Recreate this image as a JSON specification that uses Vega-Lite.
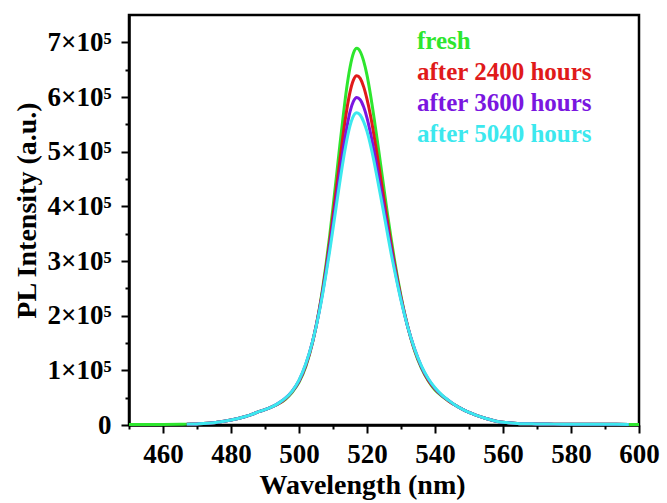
{
  "$schema": "https://vega.github.io/schema/vega-lite/v6.json",
  "width": 510,
  "height": 410,
  "autosize": {"type": "none"},
  "padding": {"left": 129, "top": 15, "right": 28, "bottom": 78},
  "background": "white",
  "view": {"stroke": "black", "strokeWidth": 2.5},
  "config": {
    "axis": {
      "labelFont": "Liberation Serif", "labelFontWeight": "bold", "labelFontSize": 27, "labelColor": "black",
      "titleFont": "Liberation Serif", "titleFontWeight": "bold", "titleFontSize": 28, "titleColor": "black",
      "domainColor": "black", "tickColor": "black", "domainWidth": 2.5, "tickWidth": 2, "grid": false
    }
  },
  "data": {"values": [
    {"wl": 450, "fresh": 1000},
    {"wl": 455, "fresh": 1000},
    {"wl": 460, "fresh": 1000},
    {"wl": 465, "fresh": 1300},
    {"wl": 467, "fresh": 1600, "after 2400 hours": 1600, "after 3600 hours": 1600, "after 5040 hours": 1600},
    {"wl": 470, "fresh": 2000, "after 2400 hours": 2000, "after 3600 hours": 2000, "after 5040 hours": 2000},
    {"wl": 475, "fresh": 4000, "after 2400 hours": 4000, "after 3600 hours": 4000, "after 5040 hours": 4000},
    {"wl": 477, "fresh": 6000, "after 2400 hours": 6000, "after 3600 hours": 6000, "after 5040 hours": 6000},
    {"wl": 480, "fresh": 9000, "after 2400 hours": 9000, "after 3600 hours": 9000, "after 5040 hours": 9000},
    {"wl": 484, "fresh": 15000, "after 2400 hours": 15000, "after 3600 hours": 15000, "after 5040 hours": 15000},
    {"wl": 486, "fresh": 19000, "after 2400 hours": 19000, "after 3600 hours": 19000, "after 5040 hours": 19000},
    {"wl": 488, "fresh": 24000, "after 2400 hours": 24000, "after 3600 hours": 24000, "after 5040 hours": 24000},
    {"wl": 490, "fresh": 28000, "after 2400 hours": 28000, "after 3600 hours": 28000, "after 5040 hours": 28000},
    {"wl": 492, "fresh": 33000, "after 2400 hours": 33000, "after 3600 hours": 33000, "after 5040 hours": 33000},
    {"wl": 494, "fresh": 39000, "after 2400 hours": 39000, "after 3600 hours": 40000, "after 5040 hours": 40000},
    {"wl": 496, "fresh": 47000, "after 2400 hours": 48000, "after 3600 hours": 49000, "after 5040 hours": 49000},
    {"wl": 498, "fresh": 60000, "after 2400 hours": 61000, "after 3600 hours": 62000, "after 5040 hours": 62000},
    {"wl": 500, "fresh": 78000, "after 2400 hours": 80000, "after 3600 hours": 81000, "after 5040 hours": 82000},
    {"wl": 502, "fresh": 107000, "after 2400 hours": 109000, "after 3600 hours": 111000, "after 5040 hours": 112000},
    {"wl": 504, "fresh": 151000, "after 2400 hours": 152000, "after 3600 hours": 153000, "after 5040 hours": 153000},
    {"wl": 506, "fresh": 213000, "after 2400 hours": 212000, "after 3600 hours": 210000, "after 5040 hours": 208000},
    {"wl": 507, "fresh": 252000, "after 2400 hours": 248000, "after 3600 hours": 244000, "after 5040 hours": 241000},
    {"wl": 508, "fresh": 296000, "after 2400 hours": 289000, "after 3600 hours": 283000, "after 5040 hours": 278000},
    {"wl": 509, "fresh": 345000, "after 2400 hours": 334000, "after 3600 hours": 325000, "after 5040 hours": 317000},
    {"wl": 510, "fresh": 398000, "after 2400 hours": 383000, "after 3600 hours": 369000, "after 5040 hours": 359000},
    {"wl": 511, "fresh": 454000, "after 2400 hours": 433000, "after 3600 hours": 415000, "after 5040 hours": 402000},
    {"wl": 512, "fresh": 511000, "after 2400 hours": 483000, "after 3600 hours": 461000, "after 5040 hours": 444000},
    {"wl": 513, "fresh": 565000, "after 2400 hours": 532000, "after 3600 hours": 504000, "after 5040 hours": 484000},
    {"wl": 514, "fresh": 615000, "after 2400 hours": 575000, "after 3600 hours": 542000, "after 5040 hours": 519000},
    {"wl": 515, "fresh": 654000, "after 2400 hours": 609000, "after 3600 hours": 573000, "after 5040 hours": 547000},
    {"wl": 516, "fresh": 680000, "after 2400 hours": 631000, "after 3600 hours": 592000, "after 5040 hours": 565000},
    {"wl": 517, "fresh": 689000, "after 2400 hours": 639000, "after 3600 hours": 599000, "after 5040 hours": 571000},
    {"wl": 518, "fresh": 683000, "after 2400 hours": 634000, "after 3600 hours": 595000, "after 5040 hours": 567000},
    {"wl": 519, "fresh": 666000, "after 2400 hours": 619000, "after 3600 hours": 582000, "after 5040 hours": 555000},
    {"wl": 520, "fresh": 640000, "after 2400 hours": 596000, "after 3600 hours": 562000, "after 5040 hours": 537000},
    {"wl": 521, "fresh": 605000, "after 2400 hours": 567000, "after 3600 hours": 535000, "after 5040 hours": 513000},
    {"wl": 522, "fresh": 565000, "after 2400 hours": 532000, "after 3600 hours": 504000, "after 5040 hours": 484000},
    {"wl": 523, "fresh": 522000, "after 2400 hours": 493000, "after 3600 hours": 469000, "after 5040 hours": 452000},
    {"wl": 524, "fresh": 477000, "after 2400 hours": 453000, "after 3600 hours": 433000, "after 5040 hours": 419000},
    {"wl": 525, "fresh": 432000, "after 2400 hours": 413000, "after 3600 hours": 397000, "after 5040 hours": 385000},
    {"wl": 526, "fresh": 387000, "after 2400 hours": 373000, "after 3600 hours": 360000, "after 5040 hours": 351000},
    {"wl": 527, "fresh": 345000, "after 2400 hours": 334000, "after 3600 hours": 325000, "after 5040 hours": 317000},
    {"wl": 528, "fresh": 305000, "after 2400 hours": 298000, "after 3600 hours": 291000, "after 5040 hours": 286000},
    {"wl": 530, "fresh": 236000, "after 2400 hours": 233000, "after 3600 hours": 230000, "after 5040 hours": 228000},
    {"wl": 532, "fresh": 179000, "after 2400 hours": 180000, "after 3600 hours": 179000, "after 5040 hours": 179000},
    {"wl": 534, "fresh": 136000, "after 2400 hours": 137000, "after 3600 hours": 139000, "after 5040 hours": 139000},
    {"wl": 536, "fresh": 104000, "after 2400 hours": 106000, "after 3600 hours": 107000, "after 5040 hours": 108000},
    {"wl": 538, "fresh": 81000, "after 2400 hours": 82000, "after 3600 hours": 84000, "after 5040 hours": 85000},
    {"wl": 540, "fresh": 64000, "after 2400 hours": 66000, "after 3600 hours": 67000, "after 5040 hours": 68000},
    {"wl": 542, "fresh": 53000, "after 2400 hours": 54000, "after 3600 hours": 54000, "after 5040 hours": 55000},
    {"wl": 544, "fresh": 44000, "after 2400 hours": 44000, "after 3600 hours": 45000, "after 5040 hours": 45000},
    {"wl": 546, "fresh": 36000, "after 2400 hours": 36000, "after 3600 hours": 36000, "after 5040 hours": 36000},
    {"wl": 548, "fresh": 29000, "after 2400 hours": 29000, "after 3600 hours": 29000, "after 5040 hours": 29000},
    {"wl": 550, "fresh": 23000, "after 2400 hours": 23000, "after 3600 hours": 23000, "after 5040 hours": 23000},
    {"wl": 552, "fresh": 18000, "after 2400 hours": 18000, "after 3600 hours": 18000, "after 5040 hours": 18000},
    {"wl": 555, "fresh": 12000, "after 2400 hours": 12000, "after 3600 hours": 12000, "after 5040 hours": 12000},
    {"wl": 558, "fresh": 7000, "after 2400 hours": 7000, "after 3600 hours": 7000, "after 5040 hours": 7000},
    {"wl": 561, "fresh": 4400, "after 2400 hours": 4400, "after 3600 hours": 4400, "after 5040 hours": 4400},
    {"wl": 565, "fresh": 2500, "after 2400 hours": 2500, "after 3600 hours": 2500, "after 5040 hours": 2500},
    {"wl": 570, "fresh": 2000, "after 2400 hours": 2000, "after 3600 hours": 2000, "after 5040 hours": 2000},
    {"wl": 575, "fresh": 1600, "after 2400 hours": 1600, "after 3600 hours": 1600, "after 5040 hours": 1600},
    {"wl": 580, "fresh": 1400, "after 2400 hours": 1400, "after 3600 hours": 1400, "after 5040 hours": 1400},
    {"wl": 590, "fresh": 1200, "after 2400 hours": 1200, "after 3600 hours": 1200, "after 5040 hours": 1200},
    {"wl": 597, "fresh": 1100, "after 2400 hours": 1100, "after 3600 hours": 1100, "after 5040 hours": 1100},
    {"wl": 600, "fresh": 1000}
  ]},
  "transform": [
    {"fold": ["fresh", "after 2400 hours", "after 3600 hours", "after 5040 hours"], "as": ["series", "intensity"]}
  ],
  "layer": [
    {
      "mark": {"type": "line", "strokeWidth": 3, "interpolate": "monotone"},
      "encoding": {
        "x": {
          "field": "wl", "type": "quantitative",
          "scale": {"domain": [450, 600], "nice": false, "zero": false},
          "axis": {
            "orient": "bottom", "values": [460, 480, 500, 520, 540, 560, 580, 600],
            "title": "Wavelength (nm)", "tickSize": 8, "labelPadding": 8,
            "labelFlush": false, "labelOverlap": false,
            "titleX": 233, "titleY": 68, "titleBaseline": "alphabetic", "titleAlign": "center"
          }
        },
        "y": {
          "field": "intensity", "type": "quantitative",
          "scale": {"domain": [0, 750000], "nice": false, "zero": true},
          "axis": {
            "orient": "left", "values": [0, 100000, 200000, 300000, 400000, 500000, 600000, 700000],
            "labelExpr": "datum.value == 0 ? '0' : (datum.value / 100000) + '×10⁵'",
            "title": "PL Intensity (a.u.)", "tickSize": 8, "labelPadding": 10, "labelOverlap": false,
            "titleX": -94, "titleY": 195, "titleAngle": 270, "titleBaseline": "alphabetic", "titleAlign": "center"
          }
        },
        "color": {
          "field": "series", "type": "nominal",
          "scale": {
            "domain": ["fresh", "after 2400 hours", "after 3600 hours", "after 5040 hours"],
            "range": ["#2ee62e", "#e01a1a", "#7a16e0", "#3ce8ee"]
          },
          "legend": {
            "orient": "none", "legendX": 263, "legendY": 13, "title": null,
            "symbolSize": 0, "symbolStrokeWidth": 0, "symbolOpacity": 0, "labelOffset": 0,
            "labelFont": "Liberation Serif", "labelFontWeight": "bold", "labelFontSize": 25,
            "rowPadding": 5, "padding": 0, "labelLimit": 0,
            "encode": {"labels": {"update": {"fill": {"scale": "color", "field": "value"}}}}
          }
        }
      }
    },
    {
      "mark": {"type": "line", "strokeOpacity": 0},
      "encoding": {
        "x": {
          "field": "wl", "type": "quantitative",
          "scale": {"domain": [450, 600], "nice": false, "zero": false},
          "axis": {
            "orient": "bottom", "values": [450, 470, 490, 510, 530, 550, 570, 590],
            "labels": false, "domain": false, "title": null, "tickSize": 4
          }
        },
        "y": {
          "field": "intensity", "type": "quantitative",
          "scale": {"domain": [0, 750000], "nice": false, "zero": true},
          "axis": {
            "orient": "left", "values": [50000, 150000, 250000, 350000, 450000, 550000, 650000],
            "labels": false, "domain": false, "title": null, "tickSize": 4
          }
        }
      }
    }
  ],
  "resolve": {
    "scale": {"x": "independent", "y": "independent"},
    "axis": {"x": "independent", "y": "independent"}
  }
}
